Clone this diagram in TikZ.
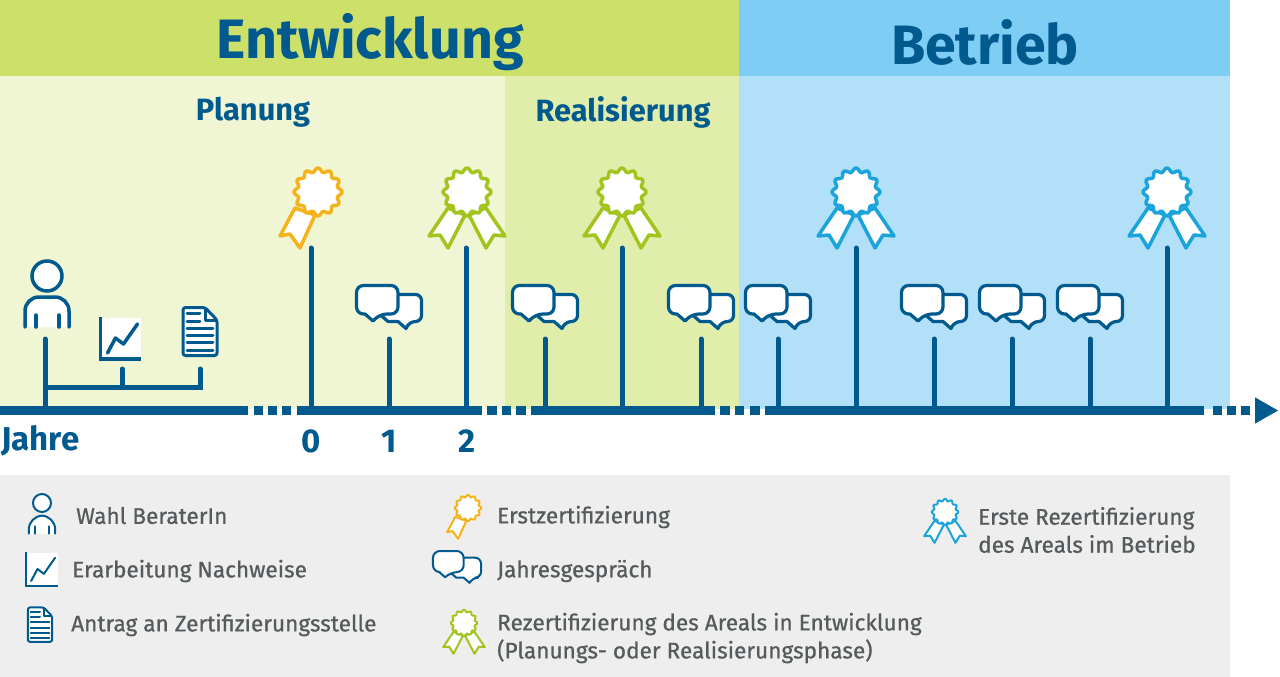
\documentclass[tikz,border=0pt]{standalone}
\usepackage{fontspec}
\setmainfont{Fira Sans}
\newfontfamily\legendfont[RawFeature={embolden=0.7}]{Fira Sans}
\usetikzlibrary{arrows.meta}

\definecolor{bandgreen}{HTML}{CDE06A}
\definecolor{bandblue}{HTML}{7ECDF5}
\definecolor{planbg}{HTML}{F0F6D3}
\definecolor{realbg}{HTML}{E1EDAB}
\definecolor{opbg}{HTML}{B1E0F8}
\definecolor{legendbg}{HTML}{EEEEEE}
\definecolor{deepblue}{HTML}{005A8E}
\definecolor{legendtext}{HTML}{555A5C}
\definecolor{badgeorange}{HTML}{F6B21B}
\definecolor{badgegreen}{HTML}{A3C41F}
\definecolor{badgeblue}{HTML}{1BA3DC}

\newcommand{\rosettehead}{%
  \draw[fill=white, line join=round] plot[domain=0:356.25, samples=96, smooth cycle]
    ({(22+2*cos(12*\x))*cos(\x)},{(22+2*cos(12*\x))*sin(\x)});
}

\begin{document}
\begin{tikzpicture}[
    x=1pt, y=-1pt,
    font=\legendfont\fontsize{22.6}{28}\selectfont,
    phase/.style={font=\fontsize{55.5}{55.5}\selectfont\bfseries, text=deepblue, inner sep=0pt},
    stage/.style={font=\fontsize{30.8}{30.8}\selectfont\bfseries, text=deepblue, inner sep=0pt},
    yearlabel/.style={font=\fontsize{33}{33}\selectfont\bfseries, text=deepblue, inner sep=0pt},
    legend/.style={text=legendtext, anchor=west, align=left, inner sep=0pt},
    axisline/.style={deepblue, line width=9.5pt},
    stem/.style={deepblue, line width=5pt, line cap=round},
    bracket/.style={deepblue, line width=5pt},
    pics/rosette/.style={code={
        \draw[fill=white, line join=round] (-23,16) -- (-38,44) -- (-28,42) -- (-18,56) -- (-3,23) -- cycle;
        \rosettehead
    }},
    pics/rosettetwo/.style={code={
        \draw[fill=white, line join=round] (-19,16) -- (-38,44) -- (-27,43) -- (-19,56) -- (-2,23) -- cycle;
        \draw[fill=white, line join=round] (19,16) -- (38,44) -- (27,43) -- (19,56) -- (2,23) -- cycle;
        \rosettehead
    }},
    pics/bubbles/.style={code={
        \draw[fill=white, line join=round, rounded corners=6pt] (9,9) -- (32.5,9) -- (32.5,36) -- (20.5,36)
            [sharp corners] -- (17,43) -- (9,36) -- (-1,36) -- (-9,29) -- cycle;
        \draw[fill=white, line join=round, rounded corners=7pt] (-32.5,0) -- (9,0) -- (9,28.5) -- (-9,28.5)
            [sharp corners] -- (-16,35.5) -- (-24,28.5) [rounded corners=7pt] -- (-32.5,28.5) -- cycle;
    }},
    pics/person/.style={code={
        \draw[fill=white] (0,0) circle (15);
        \draw[fill=white, line cap=round, rounded corners=14pt] (-22,51) -- (-22,21) -- (22,21) -- (22,51);
        \draw[line cap=round] (-11,39) -- (-11,51) (12,39) -- (12,51);
    }},
    pics/chart/.style={code={
        \fill[white] (0,0) rectangle (40,41);
        \draw (0,-1) -- (0,41) -- (40,41);
        \draw[line cap=round, line join=round] (7,35) -- (15,20) -- (23,26) -- (37,6);
    }},
    pics/paper/.style={code={
        \draw[fill=white, line join=round, rounded corners=2.5pt] (-17,-24.5) -- (5,-24.5) -- (17,-12) -- (17,23.5) -- (-17,23.5) -- cycle;
        \draw[line join=round] (5,-24.5) -- (5,-12) -- (17,-12);
        \foreach \ya/\xb in {-18.7/0,-11/0,-3.7/13,3.7/13,10.7/13,18/13}
            \draw[line cap=round] (-13,\ya) -- (\xb,\ya);
    }}
]
\useasboundingbox (0,0) rectangle (1280,677);

\fill[bandgreen] (0,0) rectangle (739,76);
\fill[bandblue] (739,0) rectangle (1230,76);
\fill[planbg] (0,76) rectangle (505,409);
\fill[realbg] (505,76) rectangle (739,409);
\fill[opbg] (739,76) rectangle (1230,409);
\fill[legendbg] (0,475) rectangle (1230,677);

\node[phase] (entwicklung) at (370,42) {Entwicklung};
\node[phase] (betrieb) at (985,42) {Betrieb};
\node[stage] (planung) at (253,112) {Planung};
\node[stage] (realisierung) at (623,112) {Realisierung};

\foreach \xa/\xb in {0/248,254/263,268/277,282/291,297/482,487/497,502/511,516/526,531/715,720/730,735/744,750/760,765/1204,1213/1222,1227/1236,1241/1250}
    \draw[axisline] (\xa,410.5) -- (\xb,410.5);
\coordinate (tipstart) at (1255,410.5);
\coordinate (tipend) at (1278,410.5);
\draw[deepblue, line width=1pt, -{Triangle[length=23pt,width=26pt]}] (tipstart) -- (tipend);

\foreach \n/\x in {a/311,b/466,c/622,d/856,e/1167} {
    \coordinate (long\n) at (\x,248);
    \coordinate (longfoot\n) at (\x,408);
    \draw[stem] (long\n) -- (longfoot\n);
}
\foreach \n/\x in {a/389,b/545,c/701,d/778,e/934,f/1012,g/1090} {
    \coordinate (short\n) at (\x,339);
    \coordinate (shortfoot\n) at (\x,408);
    \draw[stem] (short\n) -- (shortfoot\n);
    \pic[deepblue, line width=3.2pt] at (\x,285.5) {bubbles};
}

\coordinate (choosetop) at (45,339);
\coordinate (choosefoot) at (45,408);
\coordinate (charttop) at (122,369);
\coordinate (chartfoot) at (122,387);
\coordinate (papertop) at (200,369);
\coordinate (paperfoot) at (200,387);
\coordinate (bracketleft) at (45,387);
\coordinate (bracketright) at (202.5,387);
\draw[stem] (choosetop) -- (choosefoot);
\draw[stem] (charttop) -- (chartfoot);
\draw[stem] (papertop) -- (paperfoot);
\draw[bracket] (bracketleft) -- (bracketright);

\pic[deepblue, line width=3.5pt] at (47,276) {person};
\pic[deepblue, line width=3.5pt] at (100.5,318) {chart};
\pic[deepblue, line width=3pt] at (200,332) {paper};

\pic[badgeorange, line width=3.5pt] at (318,192) {rosette};
\pic[badgegreen, line width=3.5pt] at (467,192) {rosettetwo};
\pic[badgegreen, line width=3.5pt] at (622,192) {rosettetwo};
\pic[badgeblue, line width=3.5pt] at (856,192) {rosettetwo};
\pic[badgeblue, line width=3.5pt] at (1167,192) {rosettetwo};

\node[yearlabel, anchor=west] (jahre) at (1,441) {Jahre};
\node[yearlabel] (yearzero) at (311,441) {0};
\node[yearlabel] (yearone) at (389,441) {1};
\node[yearlabel] (yeartwo) at (467,441) {2};

\pic[deepblue, line width=2pt, scale=.6] at (42,503) {person};
\pic[deepblue, line width=2pt, scale=.8] at (25.5,553) {chart};
\pic[deepblue, line width=2pt, scale=.72] at (40,625) {paper};
\pic[badgeorange, line width=2pt, scale=.55] at (468,508) {rosette};
\pic[deepblue, line width=2pt, scale=.74] at (457,551) {bubbles};
\pic[badgegreen, line width=2pt, scale=.55] at (464,623) {rosettetwo};
\pic[badgeblue, line width=2pt, scale=.55] at (945,512) {rosettetwo};

\node[legend] (wahl) at (76,515.5) {Wahl BeraterIn};
\node[legend] (nachweise) at (72,571) {Erarbeitung Nachweise};
\node[legend] (antrag) at (71,625) {Antrag an Zertifizierungsstelle};
\node[legend] (erst) at (497,517) {Erstzertifizierung};
\node[legend] (gespraech) at (497,571) {Jahresgespräch};
\node[legend] (rezert) at (497,638) {Rezertifizierung des Areals in Entwicklung\\(Planungs- oder Realisierungsphase)};
\node[legend] (erste) at (978,530) {Erste Rezertifizierung\\des Areals im Betrieb};
\end{tikzpicture}
\end{document}
